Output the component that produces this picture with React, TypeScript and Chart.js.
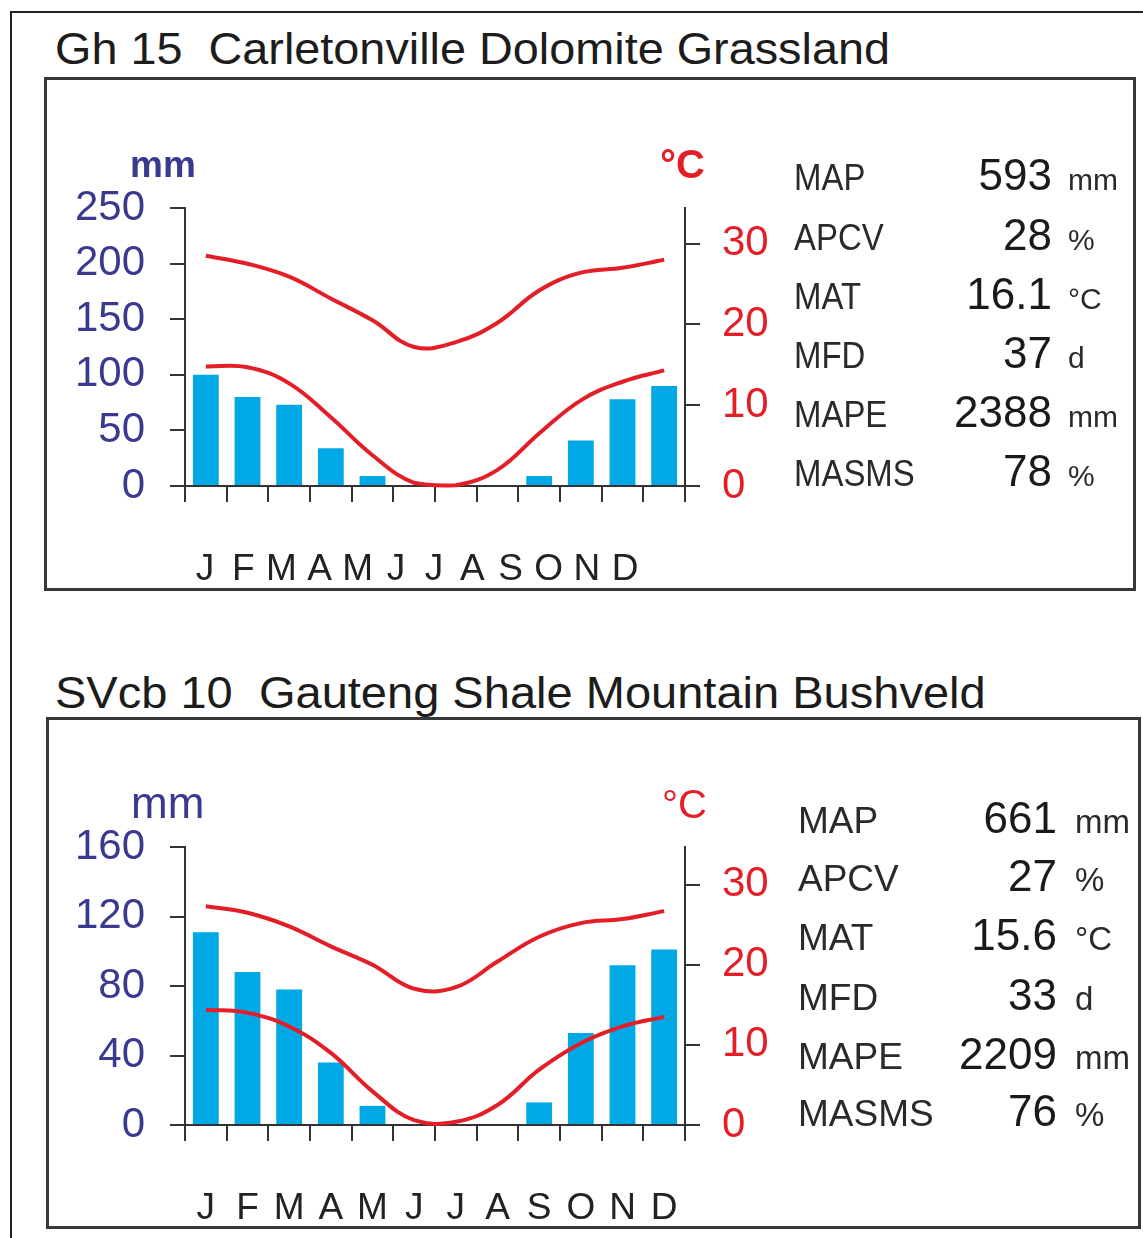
import React, { useEffect, useRef } from "react";
import { Chart, registerables } from "chart.js";
Chart.register(...registerables);

const months = ["J", "F", "M", "A", "M", "J", "J", "A", "S", "O", "N", "D"];

const rain1 = [100, 80, 73, 34, 9, 0, 0, 0, 9, 41, 78, 90];
const tmax1 = [28.5, 27.5, 25.9, 23.2, 20.5, 17.2, 17.8, 20.2, 24.2, 26.4, 27.0, 28.0];
const tmin1 = [14.8, 14.7, 12.7, 8.5, 3.8, 0.4, 0.1, 2.0, 6.5, 10.6, 12.9, 14.3];

const rain2 = [111, 88, 78, 36, 11, 0, 0, 0, 13, 53, 92, 101];
const tmax2 = [27.3, 26.5, 24.8, 22.3, 20.0, 17.0, 17.2, 20.4, 23.5, 25.2, 25.7, 26.7];
const tmin2 = [14.4, 14.0, 12.3, 9.0, 4.2, 0.6, 0.4, 2.5, 6.9, 10.2, 12.3, 13.5];

const mmTicks1 = [0, 50, 100, 150, 200, 250];
const mmTicks2 = [0, 40, 80, 120, 160];
const cTicks = [0, 10, 20, 30];

const statLabels = ["MAP", "APCV", "MAT", "MFD", "MAPE", "MASMS"];
const statValues1 = ["593", "28", "16.1", "37", "2388", "78"];
const statValues2 = ["661", "27", "15.6", "33", "2209", "76"];
const statUnits = ["mm", "%", "°C", "d", "mm", "%"];

const title1 = "Gh 15  Carletonville Dolomite Grassland";
const title2 = "SVcb 10  Gauteng Shale Mountain Bushveld";

const FONT = "'Liberation Sans', Arial, Helvetica, sans-serif";
const RED = "#e41e26";
const BAR = "#00a8e6";
const AXIS = "#333333";
const BLUE_TXT = "#39398f";
const TXT = "#222222";

type P = {
  rain: number[];
  tmax: number[];
  tmin: number[];
  mmTicks: number[];
  mmMax: number;
  cMax: number;
  padTop: number;
  xlH: number;
  lmin: number;
  lmax: number;
};

function makeConfig(p: P): any {
  const line = (data: number[]) => ({
    type: "line",
    data,
    borderColor: RED,
    borderWidth: 4,
    pointRadius: 0,
    tension: 0.4,
    fill: false,
    clip: false,
    xAxisID: "x",
    yAxisID: "y2",
    order: 0,
  });
  return {
    type: "bar",
    data: {
      labels: months,
      datasets: [
        line(p.tmax),
        line(p.tmin),
        {
          type: "bar",
          data: p.rain,
          backgroundColor: BAR,
          barPercentage: 0.62,
          categoryPercentage: 1,
          xAxisID: "x",
          yAxisID: "y",
          order: 1,
        },
      ],
    },
    options: {
      animation: false,
      responsive: false,
      devicePixelRatio: 1,
      events: [],
      layout: { padding: { top: p.padTop, left: 0, right: 0, bottom: 0 } },
      plugins: { legend: { display: false }, tooltip: { enabled: false } },
      scales: {
        x: {
          type: "category",
          position: "bottom",
          offset: true,
          weight: 0,
          grid: {
            display: true,
            offset: true,
            drawOnChartArea: false,
            drawTicks: true,
            tickLength: 16,
            color: AXIS,
            lineWidth: 2,
          },
          border: { display: true, color: AXIS, width: 2 },
          ticks: { display: false },
          afterFit: (s: any) => {
            s.height = 16;
          },
        },
        xl: {
          type: "linear",
          position: "bottom",
          weight: 1,
          offset: false,
          bounds: "data",
          min: p.lmin,
          max: p.lmax,
          grid: { display: false, offset: false },
          border: { display: false },
          ticks: {
            autoSkip: false,
            maxRotation: 0,
            padding: 38,
            color: TXT,
            font: { family: FONT, size: 37 },
            callback: (v: any) => months[v] ?? "",
          },
          afterBuildTicks: (s: any) => {
            s.ticks = months.map((_, i) => ({ value: i }));
          },
          afterFit: (s: any) => {
            s.height = p.xlH;
          },
        },
        y: {
          type: "linear",
          position: "left",
          min: 0,
          max: p.mmMax,
          grid: {
            drawOnChartArea: false,
            drawTicks: true,
            tickLength: 15,
            color: AXIS,
            lineWidth: 2,
          },
          border: { display: true, color: AXIS, width: 2 },
          ticks: {
            color: BLUE_TXT,
            font: { family: FONT, size: 42 },
            padding: 25,
            autoSkip: false,
          },
          afterBuildTicks: (s: any) => {
            s.ticks = p.mmTicks.map((v) => ({ value: v }));
          },
          afterFit: (s: any) => {
            s.width = 145;
          },
        },
        y2: {
          type: "linear",
          position: "right",
          min: 0,
          max: p.cMax,
          grid: {
            drawOnChartArea: false,
            drawTicks: true,
            tickLength: 15,
            color: AXIS,
            lineWidth: 2,
          },
          border: { display: true, color: AXIS, width: 2 },
          ticks: {
            color: RED,
            font: { family: FONT, size: 42 },
            padding: 22,
            autoSkip: false,
          },
          afterBuildTicks: (s: any) => {
            s.ticks = cTicks.map((v) => ({ value: v }));
          },
          afterFit: (s: any) => {
            s.width = 135;
          },
        },
      },
    },
  };
}

function ClimateChart({ p, left, top }: { p: P; left: number; top: number }) {
  const ref = useRef<HTMLCanvasElement | null>(null);
  useEffect(() => {
    if (!ref.current) return;
    const chart = new Chart(ref.current, makeConfig(p));
    return () => chart.destroy();
  }, []);
  return (
    <canvas
      ref={ref}
      width={780}
      height={440}
      style={{ position: "absolute", left, top, width: 780, height: 440 }}
    />
  );
}

const ASC = 0.8465;

function T({
  text,
  baseline,
  size,
  left,
  right,
  color = TXT,
  bold = false,
  scaleX = 1,
}: {
  text: string;
  baseline: number;
  size: number;
  left?: number;
  right?: number;
  color?: string;
  bold?: boolean;
  scaleX?: number;
}) {
  const style: any = {
    position: "absolute",
    top: baseline - ASC * size,
    fontFamily: FONT,
    fontSize: size,
    lineHeight: 1,
    color,
    fontWeight: bold ? "bold" : "normal",
    whiteSpace: "pre",
  };
  if (left !== undefined) style.left = left;
  if (right !== undefined) style.right = 1143 - right;
  if (scaleX !== 1) {
    style.transform = `scaleX(${scaleX})`;
    style.transformOrigin = left !== undefined ? "left" : "right";
  }
  return <div style={style}>{text}</div>;
}

function Stats({
  values,
  baselines,
  labelLeft,
  labelSize,
  labelScale,
  valueRight,
  unitLeft,
  unitSize,
}: {
  values: string[];
  baselines: number[];
  labelLeft: number;
  labelSize: number;
  labelScale: number;
  valueRight: number;
  unitLeft: number;
  unitSize: number;
}) {
  return (
    <>
      {statLabels.map((l, i) => (
        <React.Fragment key={i}>
          <T text={l} baseline={baselines[i]} size={labelSize} left={labelLeft} scaleX={labelScale} color="#2a2a2a" />
          <T text={values[i]} baseline={baselines[i]} size={44} right={valueRight} color="#1a1a1a" />
          <T text={statUnits[i]} baseline={baselines[i]} size={unitSize} left={unitLeft} color="#2a2a2a" />
        </React.Fragment>
      ))}
    </>
  );
}

const p1: P = {
  rain: rain1,
  tmax: tmax1,
  tmin: tmin1,
  mmTicks: mmTicks1,
  mmMax: 250,
  cMax: 34.4,
  padTop: 58,
  xlH: 88,
  lmin: -0.524,
  lmax: 12.57,
};

const p2: P = {
  rain: rain2,
  tmax: tmax2,
  tmin: tmin2,
  mmTicks: mmTicks2,
  mmMax: 160,
  cMax: 34.7,
  padTop: 57,
  xlH: 89,
  lmin: -0.5,
  lmax: 11.5,
};

export default function App() {
  return (
    <div
      style={{
        position: "absolute",
        left: 0,
        top: 0,
        width: 1143,
        height: 1238,
        overflow: "hidden",
        background: "#ffffff",
      }}
    >
      {/* outer frame (top and left edges) */}
      <div style={{ position: "absolute", left: 10, top: 11, width: 1200, height: 2, background: "#222" }} />
      <div style={{ position: "absolute", left: 10, top: 11, width: 2, height: 1300, background: "#222" }} />

      {/* titles */}
      <T text={title1} baseline={64} size={45} left={55} color="#1c1c1c" scaleX={1.04} />
      <T text={title2} baseline={708} size={45} left={55} color="#1c1c1c" scaleX={1.045} />

      {/* inner boxes */}
      <div
        style={{
          position: "absolute",
          left: 44,
          top: 77,
          width: 1092,
          height: 514,
          border: "3px solid #383838",
          boxSizing: "border-box",
        }}
      />
      <div
        style={{
          position: "absolute",
          left: 46,
          top: 717,
          width: 1095,
          height: 512,
          border: "3px solid #383838",
          boxSizing: "border-box",
        }}
      />

      <ClimateChart p={p1} left={40} top={150} />
      <ClimateChart p={p2} left={40} top={790} />

      {/* axis units */}
      <T text="mm" baseline={177} size={37} left={130} color={BLUE_TXT} bold />
      <T text="°C" baseline={178} size={40} left={660} color={RED} bold />
      <T text="mm" baseline={818} size={44} left={131} color={BLUE_TXT} />
      <T text="°C" baseline={818} size={40} left={662} color={RED} />

      <Stats
        values={statValues1}
        baselines={[190, 250, 309, 368, 427, 486]}
        labelLeft={794}
        labelSize={37}
        labelScale={0.89}
        valueRight={1052}
        unitLeft={1068}
        unitSize={30}
      />
      <Stats
        values={statValues2}
        baselines={[833, 891, 950, 1010, 1069, 1126]}
        labelLeft={798}
        labelSize={37}
        labelScale={1}
        valueRight={1057}
        unitLeft={1075}
        unitSize={33}
      />
    </div>
  );
}
